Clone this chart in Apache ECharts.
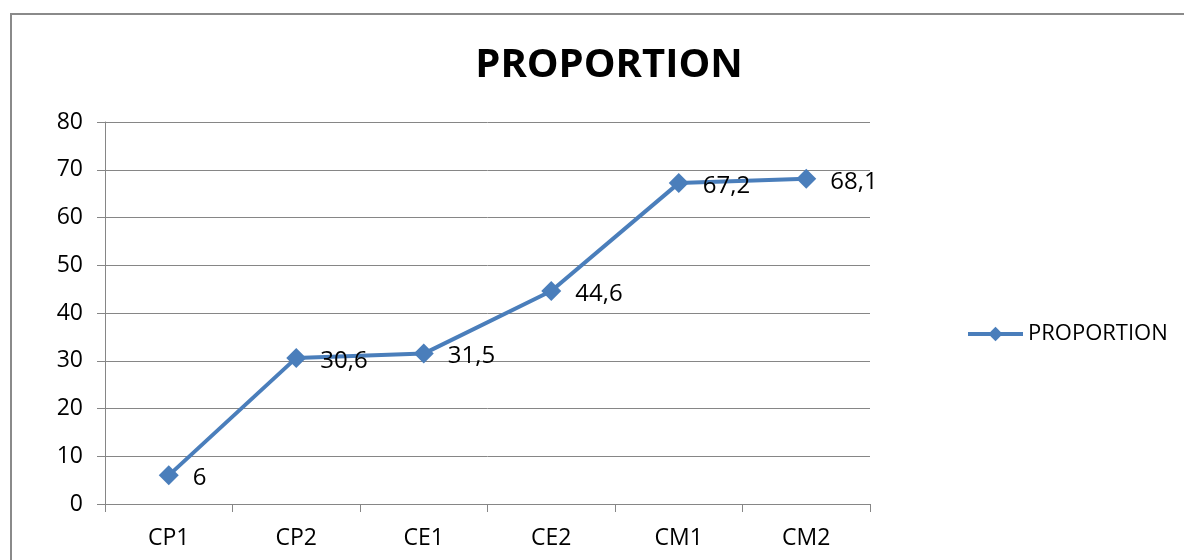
<!DOCTYPE html>
<html><head><meta charset="utf-8">
<style>html,body{margin:0;padding:0;background:#fff}#c{width:1184px;height:560px}</style>
<script src="https://cdn.jsdelivr.net/npm/echarts@6/dist/echarts.min.js"></script>
</head><body><div id="c"></div>
<script>
const categories = ['CP1','CP2','CE1','CE2','CM1','CM2'];
const values = [6, 30.6, 31.5, 44.6, 67.2, 68.1];
const seriesName = 'PROPORTION';
const titleText = 'PROPORTION';

const chart = echarts.init(document.getElementById('c'));
const font = 'Open Sans';
const gridColor = '#868686';
chart.setOption({
  animation: false,
  backgroundColor: '#fff',
  graphic: [{type:'rect', shape:{x:11,y:14,width:1400,height:800}, style:{fill:'none', stroke:'#8a8a8a', lineWidth:2}, silent:true, z:-1}],
  title: {text: titleText, left: 604, textAlign: 'center', top: 41,
    textStyle:{fontFamily: font, fontWeight:'bold', fontSize:40, color:'#000'}},
  legend: {data:[seriesName], left: 961, top: 318, itemWidth: 55, itemHeight: 18, itemGap: 4,
    lineStyle:{width:4, color:'#4a7ebb'},
    textStyle:{fontFamily: font, fontSize: 22, color:'#000'}},
  grid: {left:105, right:314, top:122, bottom:56, containLabel:false},
  xAxis: {type:'category', data: categories, boundaryGap: true,
    axisLine:{lineStyle:{color:gridColor, width:1}},
    axisTick:{show:true, length:8, lineStyle:{color:gridColor}},
    axisLabel:{fontFamily: font, fontSize:23, color:'#000', margin:23},
    splitLine:{show:false}},
  yAxis: {type:'value', min:0, max:80, interval:10,
    axisLine:{show:true, lineStyle:{color:gridColor, width:1}},
    axisTick:{show:true, length:8, lineStyle:{color:gridColor}},
    axisLabel:{fontFamily: font, fontSize:23, color:'#000', margin:22},
    splitLine:{show:true, lineStyle:{color:gridColor, width:1}}},
  series: [{name: seriesName, type:'line', data: values,
    symbol:'diamond', symbolSize:20,
    lineStyle:{color:'#4a7ebb', width:4},
    itemStyle:{color:'#4a7ebb'},
    label:{show:true, position:'right', distance:14, offset:[0,3],
      fontFamily: font, fontSize:24, color:'#000',
      formatter: p => String(p.value).replace('.', ',')}}]
});
</script></body></html>
